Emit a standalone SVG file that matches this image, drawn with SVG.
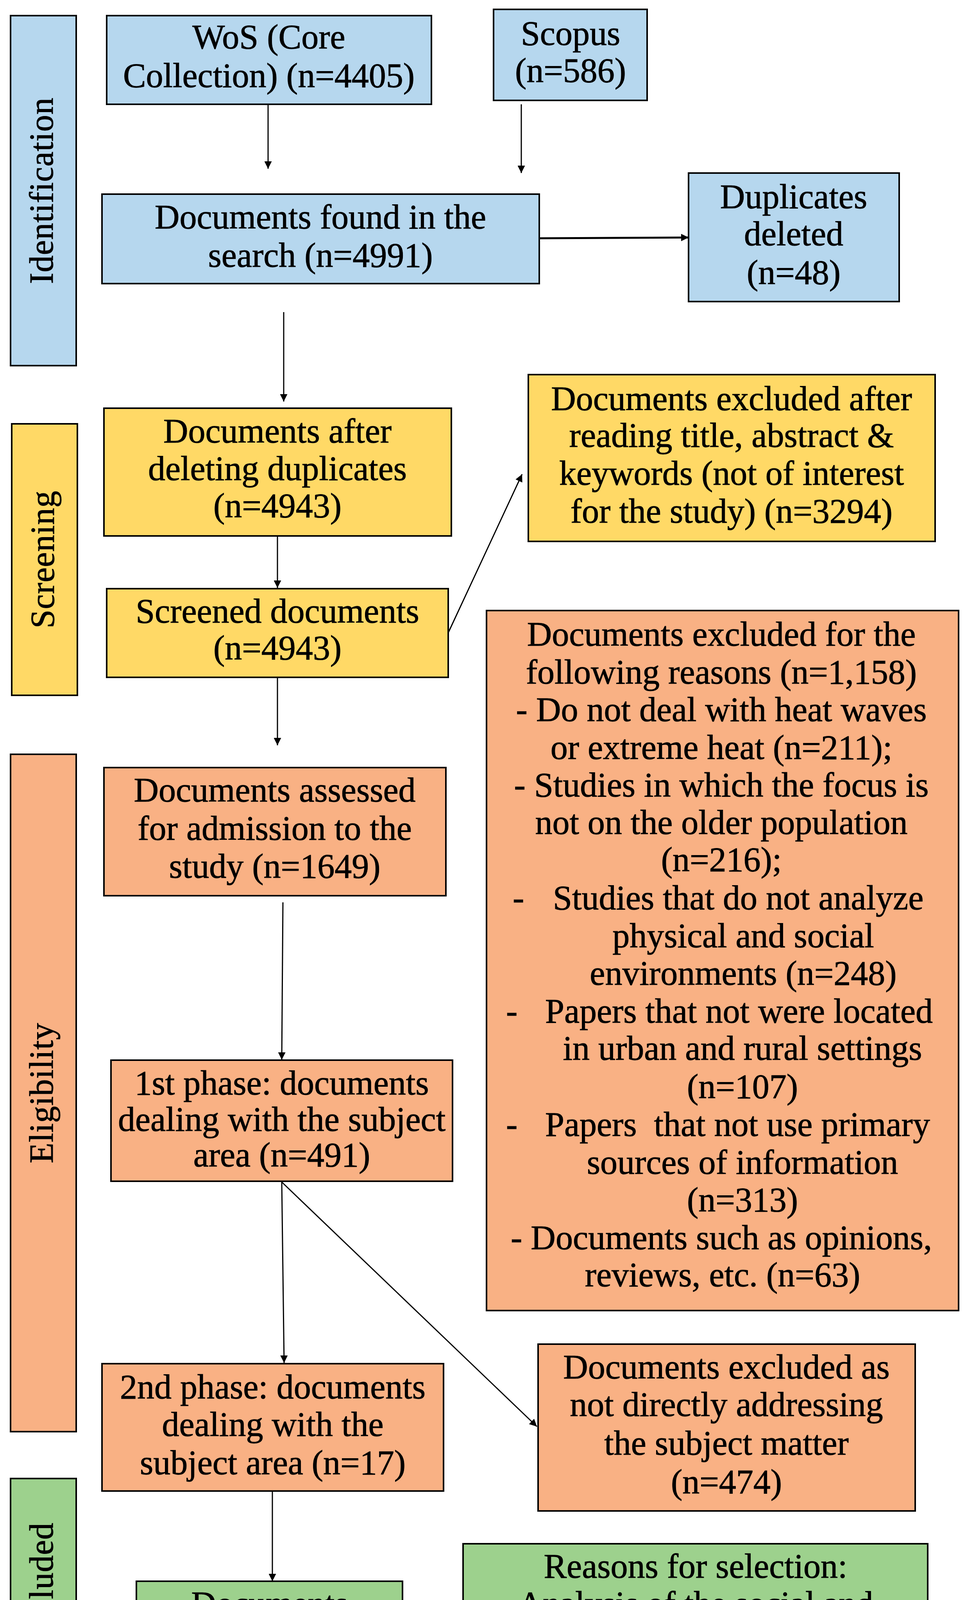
<svg xmlns="http://www.w3.org/2000/svg" width="2472" height="4507" viewBox="0 0 2472 4507">
<style>
.box{stroke:#000;stroke-width:4}
.blue{fill:#B6D7EE}
.yellow{fill:#FFD966}
.orange{fill:#F9B184}
.green{fill:#9DD18D}
text{font-family:"Liberation Serif","Times New Roman",serif;font-size:88px;fill:#000;stroke:#000;stroke-width:1}
.c{text-anchor:middle}
.lab{font-size:86px;text-anchor:middle;letter-spacing:1px}
.conn line{stroke:#000;stroke-width:3;fill:none}
.conn line.thick{stroke-width:5}
</style>
<defs>
<marker id="ah" viewBox="0 0 10 10" refX="10" refY="5" markerUnits="userSpaceOnUse" markerWidth="30" markerHeight="19" orient="auto">
<path d="M0,0 L10,5 L0,10 z" fill="#000"/>
</marker>
</defs>
<rect width="2472" height="4507" fill="#fff"/>

<g id="stage-identification">
<rect class="box blue" x="27" y="40" width="168" height="896"/>
<text class="lab" transform="translate(135,488) rotate(-90)" x="0" y="0">Identification</text>
</g>
<g id="stage-screening">
<rect class="box yellow" x="30" y="1085" width="168" height="695"/>
<text class="lab" transform="translate(138,1432) rotate(-90)" x="0" y="0">Screening</text>
</g>
<g id="stage-eligibility">
<rect class="box orange" x="27" y="1931" width="168" height="1734"/>
<text class="lab" transform="translate(135,2798) rotate(-90)" x="0" y="0">Eligibility</text>
</g>
<g id="stage-included">
<rect class="box green" x="27" y="3785" width="168" height="534"/>
<text class="lab" transform="translate(135,4052) rotate(-90)" x="0" y="0">Included</text>
</g>

<g id="wos">
<rect class="box blue" x="273" y="40" width="831" height="227"/>
<text class="c" x="688" y="124">WoS (Core</text>
<text class="c" x="688" y="223">Collection) (n=4405)</text>
</g>
<g id="scopus">
<rect class="box blue" x="1263" y="24" width="393" height="233"/>
<text class="c" x="1460" y="115">Scopus</text>
<text class="c" x="1460" y="210">(n=586)</text>
</g>
<g id="found">
<rect class="box blue" x="261" y="497" width="1119" height="229"/>
<text class="c" x="820" y="585">Documents found in the</text>
<text class="c" x="820" y="683">search (n=4991)</text>
</g>
<g id="duplicates">
<rect class="box blue" x="1762" y="443" width="539" height="329"/>
<text class="c" x="2031" y="533">Duplicates</text>
<text class="c" x="2031" y="628">deleted</text>
<text class="c" x="2031" y="727">(n=48)</text>
</g>

<g id="after-dup">
<rect class="box yellow" x="266" y="1045" width="889" height="327"/>
<text class="c" x="710" y="1133">Documents after</text>
<text class="c" x="710" y="1229">deleting duplicates</text>
<text class="c" x="710" y="1324">(n=4943)</text>
</g>
<g id="excluded-title">
<rect class="box yellow" x="1352" y="959" width="1041" height="427"/>
<text class="c" x="1872" y="1050">Documents excluded after</text>
<text class="c" x="1872" y="1144">reading title, abstract &amp;</text>
<text class="c" x="1872" y="1241">keywords (not of interest</text>
<text class="c" x="1872" y="1338">for the study) (n=3294)</text>
</g>
<g id="screened">
<rect class="box yellow" x="273" y="1507" width="874" height="227"/>
<text class="c" x="710" y="1594">Screened documents</text>
<text class="c" x="710" y="1688">(n=4943)</text>
</g>

<g id="assessed">
<rect class="box orange" x="266" y="1965" width="875" height="328"/>
<text class="c" x="703" y="2052">Documents assessed</text>
<text class="c" x="703" y="2150">for admission to the</text>
<text class="c" x="703" y="2247">study (n=1649)</text>
</g>
<g id="excluded-reasons">
<rect class="box orange" x="1245" y="1563" width="1208" height="1792"/>
<text class="c" x="1846" y="1653">Documents excluded for the</text>
<text class="c" x="1846" y="1750">following reasons (n=1,158)</text>
<text class="c" x="1846" y="1846">- Do not deal with heat waves</text>
<text class="c" x="1846" y="1943">or extreme heat (n=211);</text>
<text class="c" x="1846" y="2039">- Studies in which the focus is</text>
<text class="c" x="1846" y="2135">not on the older population</text>
<text class="c" x="1846" y="2230">(n=216);</text>
<text x="1312" y="2328">-</text>
<text x="1415" y="2328">Studies that do not analyze</text>
<text class="c" x="1902" y="2425">physical and social</text>
<text class="c" x="1902" y="2521">environments (n=248)</text>
<text x="1295" y="2618">-</text>
<text x="1395" y="2618">Papers that not were located</text>
<text class="c" x="1900" y="2713">in urban and rural settings</text>
<text class="c" x="1900" y="2811">(n=107)</text>
<text x="1295" y="2908">-</text>
<text x="1395" y="2908" style="white-space:pre">Papers  that not use primary</text>
<text class="c" x="1900" y="3005">sources of information</text>
<text class="c" x="1900" y="3101">(n=313)</text>
<text class="c" x="1846" y="3198">- Documents such as opinions,</text>
<text class="c" x="1849" y="3293">reviews, etc. (n=63)</text>
</g>
<g id="phase1">
<rect class="box orange" x="284" y="2714" width="874" height="310"/>
<text class="c" x="721" y="2802">1st phase: documents</text>
<text class="c" x="721" y="2895">dealing with the subject</text>
<text class="c" x="721" y="2986">area (n=491)</text>
</g>
<g id="phase2">
<rect class="box orange" x="261" y="3491" width="874" height="326"/>
<text class="c" x="698" y="3580">2nd phase: documents</text>
<text class="c" x="698" y="3676">dealing with the</text>
<text class="c" x="698" y="3774">subject area (n=17)</text>
</g>
<g id="excluded-subject">
<rect class="box orange" x="1377" y="3441" width="965" height="427"/>
<text class="c" x="1859" y="3529">Documents excluded as</text>
<text class="c" x="1859" y="3625">not directly addressing</text>
<text class="c" x="1859" y="3724">the subject matter</text>
<text class="c" x="1859" y="3823">(n=474)</text>
</g>

<g id="included">
<rect class="box green" x="349" y="4048" width="681" height="328"/>
<text class="c" x="690" y="4135">Documents</text>
<text class="c" x="690" y="4233">included in the</text>
<text class="c" x="690" y="4332">study (n=17)</text>
</g>
<g id="reasons-selection">
<rect class="box green" x="1185" y="3952" width="1189" height="523"/>
<text class="c" x="1780" y="4039">Reasons for selection:</text>
<text class="c" x="1780" y="4135">Analysis of the social and</text>
<text class="c" x="1780" y="4230">physical impact of heatwaves</text>
<text class="c" x="1780" y="4330">on older people in urban and</text>
<text class="c" x="1780" y="4428">rural settings.</text>
</g>

<g id="connectors" class="conn">
<line x1="686" y1="267" x2="686" y2="432" marker-end="url(#ah)"/>
<line x1="1334" y1="267" x2="1334" y2="443" marker-end="url(#ah)"/>
<line class="thick" x1="1380" y1="610" x2="1762" y2="608" marker-end="url(#ah)"/>
<line x1="726" y1="799" x2="726" y2="1028" marker-end="url(#ah)"/>
<line x1="710" y1="1372" x2="710" y2="1505" marker-end="url(#ah)"/>
<line x1="1147" y1="1620" x2="1336" y2="1214" marker-end="url(#ah)"/>
<line x1="710" y1="1734" x2="710" y2="1908" marker-end="url(#ah)"/>
<line x1="724" y1="2310" x2="721" y2="2713" marker-end="url(#ah)"/>
<line x1="721" y1="3026" x2="727" y2="3489" marker-end="url(#ah)"/>
<line x1="721" y1="3026" x2="1374" y2="3652" marker-end="url(#ah)"/>
<line x1="697" y1="3817" x2="697" y2="4048" marker-end="url(#ah)"/>
<line class="thick" x1="1030" y1="4212" x2="1185" y2="4212" marker-end="url(#ah)"/>
</g>
</svg>
